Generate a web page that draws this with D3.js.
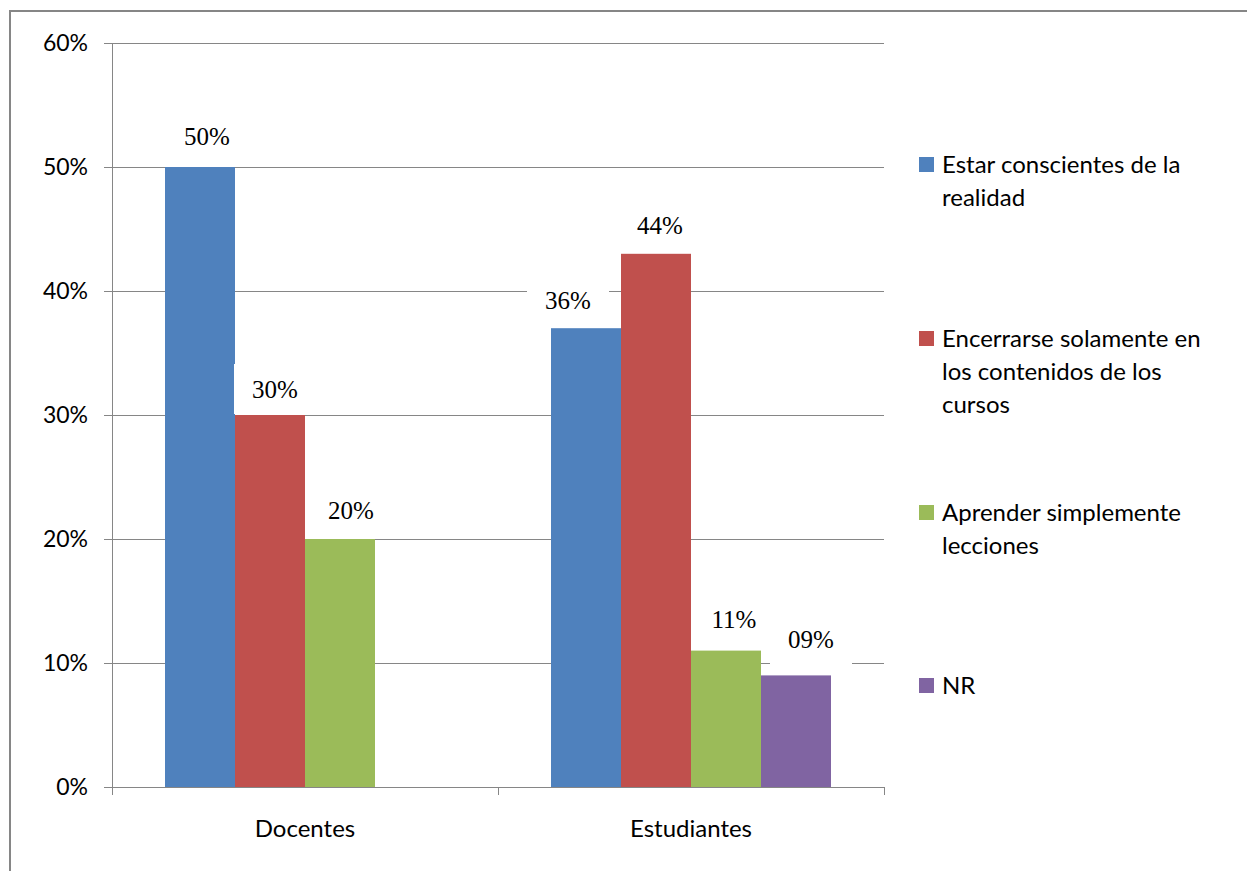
<!DOCTYPE html>
<html>
<head>
<meta charset="utf-8">
<script src="https://cdn.jsdelivr.net/npm/d3@7"></script>
<style>
  body { margin: 0; background: #fff; }
  svg { display: block; }
</style>
</head>
<body>
<svg id="chart" width="1247" height="871"></svg>
<script>
// data
var categories = ['Docentes', 'Estudiantes'];
var seriesNames = ['Estar conscientes de la realidad', 'Encerrarse solamente en los contenidos de los cursos', 'Aprender simplemente lecciones', 'NR'];
var seriesColors = ['#4F81BD', '#C0504D', '#9BBB59', '#8064A2'];
var docentesValues = [50, 30, 20, null];
var estudiantesValues = [37, 43, 11, 9];
var docentesLabels = ['50%', '30%', '20%', null];
var estudiantesLabels = ['36%', '44%', '11%', '09%'];
var yTicks = [0, 10, 20, 30, 40, 50, 60];
var legendLines = [
  ['Estar conscientes de la', 'realidad'],
  ['Encerrarse solamente en', 'los contenidos de los', 'cursos'],
  ['Aprender simplemente', 'lecciones'],
  ['NR']
];

var values = [docentesValues, estudiantesValues];
var labels = [docentesLabels, estudiantesLabels];

// label placement tweaks (excel moved some labels a bit) [dx, dy] per group/series
var labelNudge = [
  [[7, -22], [5, -17], [11, -20], null],
  [[-18, -19], [4, -20], [8, -23], [15, -27]]
];

var svg = d3.select('#chart');
var sans = 'Lato, Carlito, Calibri, sans-serif';
var serif = '"Liberation Serif", "Times New Roman", serif';
var grey = '#868686';

// outer frame (only top and left edges show in the picture)
svg.append('path')
  .attr('d', 'M10,880 L10,11 L1260,11')
  .attr('fill', 'none')
  .attr('stroke', grey)
  .attr('stroke-width', 2);

var plot = {left: 112, right: 884, top: 43, bottom: 787};

var x0 = d3.scaleBand().domain(categories).range([plot.left, plot.right]).paddingInner(0).paddingOuter(0);
var x1 = d3.scaleBand().domain(d3.range(seriesNames.length)).range([53, x0.bandwidth() - 53]).padding(0);
var y = d3.scaleLinear().domain([0, 60]).range([plot.bottom, plot.top]);

// gridlines
svg.append('g').selectAll('line')
  .data(yTicks.filter(function(d){ return d > 0; }))
  .join('line')
  .attr('x1', plot.left - 8).attr('x2', plot.right)
  .attr('y1', function(d){ return Math.round(y(d)) + 0.5; })
  .attr('y2', function(d){ return Math.round(y(d)) + 0.5; })
  .attr('stroke', grey).attr('stroke-width', 1);

// y tick labels
svg.append('g').selectAll('text')
  .data(yTicks)
  .join('text')
  .attr('x', 88)
  .attr('y', function(d){ return y(d) + 8; })
  .attr('text-anchor', 'end')
  .attr('font-family', sans)
  .attr('font-size', 23)
  .attr('fill', '#000')
  .text(function(d){ return d + '%'; });

// bars
var groups = svg.append('g').selectAll('g')
  .data(categories)
  .join('g')
  .attr('transform', function(d){ return 'translate(' + x0(d) + ',0)'; });

groups.selectAll('rect')
  .data(function(d, i){ return values[i].map(function(v, j){ return {v: v, s: j}; }).filter(function(e){ return e.v != null; }); })
  .join('rect')
  .attr('x', function(d){ return x1(d.s); })
  .attr('width', x1.bandwidth())
  .attr('y', function(d){ return y(d.v); })
  .attr('height', function(d){ return y(0) - y(d.v); })
  .attr('fill', function(d){ return seriesColors[d.s]; });

// data labels with white boxes
var labelData = [];
categories.forEach(function(c, i){
  values[i].forEach(function(v, j){
    if (v == null) return;
    var n = labelNudge[i][j];
    labelData.push({
      cx: x0(c) + x1(j) + x1.bandwidth() / 2 + n[0],
      base: y(v) + n[1],
      text: labels[i][j]
    });
  });
});

var lab = svg.append('g').selectAll('g')
  .data(labelData)
  .join('g');

lab.append('rect')
  .attr('x', function(d){ return d.cx - 41; })
  .attr('y', function(d){ return d.base - 34; })
  .attr('width', 82)
  .attr('height', 50)
  .attr('fill', '#fff');

lab.append('text')
  .attr('x', function(d){ return d.cx; })
  .attr('y', function(d){ return d.base; })
  .attr('text-anchor', 'middle')
  .attr('font-family', serif)
  .attr('font-size', 25)
  .attr('fill', '#000')
  .text(function(d){ return d.text; });

// axes lines
svg.append('line')
  .attr('x1', plot.left + 0.5).attr('x2', plot.left + 0.5)
  .attr('y1', plot.top).attr('y2', plot.bottom + 8)
  .attr('stroke', grey);
svg.append('line')
  .attr('x1', plot.left - 8).attr('x2', plot.right)
  .attr('y1', plot.bottom + 0.5).attr('y2', plot.bottom + 0.5)
  .attr('stroke', grey);

// category ticks
svg.append('g').selectAll('line')
  .data([plot.left, x0('Estudiantes'), plot.right])
  .join('line')
  .attr('x1', function(d){ return Math.round(d) + 0.5; })
  .attr('x2', function(d){ return Math.round(d) + 0.5; })
  .attr('y1', plot.bottom).attr('y2', plot.bottom + 8)
  .attr('stroke', grey);

svg.append('g').selectAll('text')
  .data(categories)
  .join('text')
  .attr('x', function(d){ return x0(d) + x0.bandwidth() / 2; })
  .attr('y', 837)
  .attr('text-anchor', 'middle')
  .attr('font-family', sans)
  .attr('font-size', 24)
  .attr('fill', '#000')
  .text(function(d){ return d; });

// legend
var legendY = [165, 339, 513, 686];
var leg = svg.append('g').selectAll('g')
  .data(seriesNames)
  .join('g')
  .attr('transform', function(d, i){ return 'translate(919,' + legendY[i] + ')'; });

leg.append('rect')
  .attr('x', 0).attr('y', -8)
  .attr('width', 15).attr('height', 15)
  .attr('fill', function(d, i){ return seriesColors[i]; });

leg.append('text')
  .attr('font-family', sans)
  .attr('font-size', 24)
  .attr('fill', '#000')
  .selectAll('tspan')
  .data(function(d, i){ return legendLines[i]; })
  .join('tspan')
  .attr('x', 23)
  .attr('y', function(d, k){ return 8 + k * 33; })
  .text(function(d){ return d; });
</script>
</body>
</html>
